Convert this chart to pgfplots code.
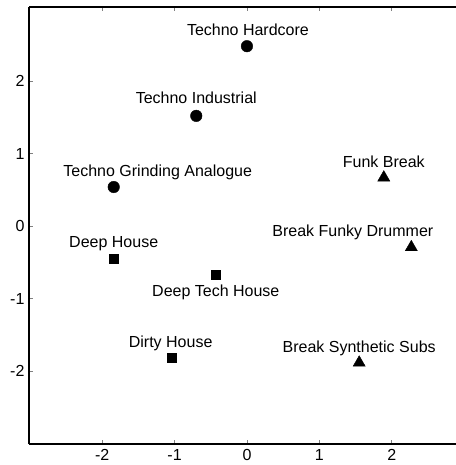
\documentclass[border=0pt]{standalone}
\usepackage{fontspec}
\setmainfont{Liberation Sans}
\usepackage{pgfplots}
\pgfplotsset{compat=1.18}
\begin{document}
\begin{tikzpicture}
\newcommand{\lf}{\fontsize{16}{19}\selectfont}
\begin{axis}[name=ax,
  scale only axis, width=427pt, height=437pt,
  xmin=-3.01, xmax=2.887, ymin=-3.0, ymax=3.02,
  axis x line=box, axis y line=left,
  axis line style={black, line width=1.3pt, -},
  xtick={-2,-1,0,1,2}, xticklabels={-2,-1,0,1,2},
  ytick={-2,-1,0,1,2}, yticklabels={-2,-1,0,1,2},
  tick style={gray, line width=0.8pt},
  tick align=inside, major tick length=4pt,
  ticklabel style={font=\lf},
  xticklabel style={yshift=-2pt},
  yticklabel style={xshift=-1pt},
  clip=false,
]
\addplot[only marks, mark=*, mark size=5.8pt, black] coordinates {
  (0.0,2.48) (-0.70,1.52) (-1.84,0.54)};
\addplot[only marks, mark=square*, mark size=4.4pt, black] coordinates {
  (-1.84,-0.45) (-0.43,-0.67) (-1.04,-1.81)};
\addplot[only marks, mark=triangle*, mark size=7pt, black] coordinates {
  (1.89,0.67) (2.27,-0.29) (1.55,-1.88)};
\begin{scope}[every node/.style={font=\lf, anchor=base, inner sep=0pt}]
\node[yshift=11pt, xshift=1pt] at (axis cs:0.0,2.48) {Techno Hardcore};
\node[yshift=12pt] at (axis cs:-0.70,1.52) {Techno Industrial};
\node[yshift=11pt, xshift=44pt] at (axis cs:-1.84,0.54) {Techno Grinding Analogue};
\node[yshift=11pt] at (axis cs:-1.84,-0.45) {Deep House};
\node[yshift=-22pt] at (axis cs:-0.43,-0.67) {Deep Tech House};
\node[yshift=10.5pt, xshift=-1pt] at (axis cs:-1.04,-1.81) {Dirty House};
\node[yshift=10.5pt] at (axis cs:1.89,0.67) {Funk Break};
\node[yshift=10.5pt, xshift=-58.5pt] at (axis cs:2.27,-0.29) {Break Funky Drummer};
\node[yshift=10.5pt] at (axis cs:1.55,-1.88) {Break Synthetic Subs};
\end{scope}
\end{axis}
\pgfresetboundingbox
\path[use as bounding box] ([xshift=-29pt,yshift=-21pt]ax.south west) rectangle ([yshift=7pt]ax.north east);
\end{tikzpicture}
\end{document}
